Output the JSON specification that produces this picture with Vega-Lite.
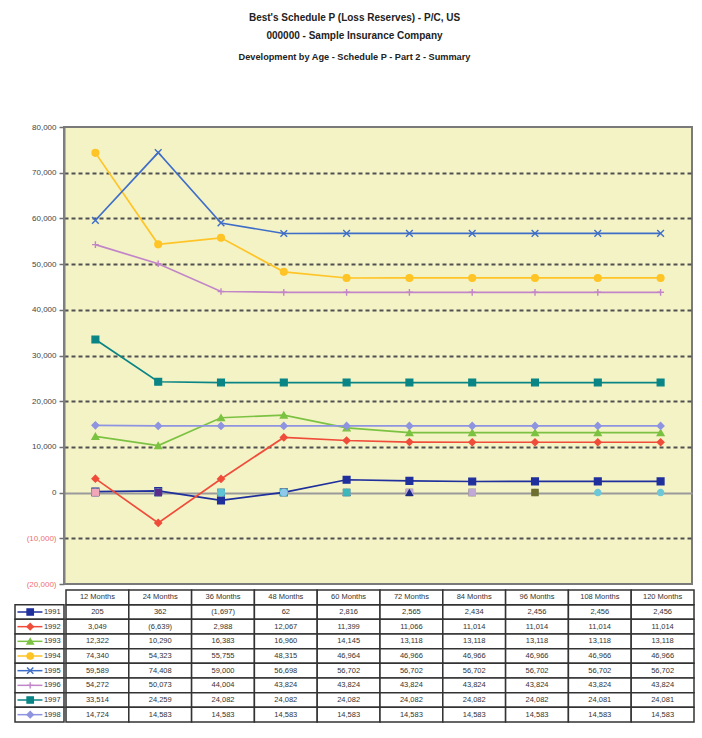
{
  "$schema": "https://vega.github.io/schema/vega-lite/v6.json",
  "background": "white",
  "padding": {"left": 14, "top": 12, "right": 5, "bottom": 0},
  "config": {
    "font": "Liberation Sans, Arial, sans-serif",
    "concat": {"spacing": 0},
    "view": {"stroke": null},
    "range": {
      "category": ["#1f2f9c", "#f04c3a", "#7cc242", "#ffc425", "#3f6ec8", "#c286c8", "#0a8585", "#8e94e0", "#6cc8d8", "#6e6e2e", "#c0a8d8", "#1c2a80", "#3cb8bc", "#90c8ec", "#60c4d4", "#5a2c8c", "#f0a8b8"],
      "symbol": ["square", "diamond", "triangle-up", "circle", "M-1,-1L1,1M-1,1L1,-1", "M-1,0L1,0M0,-1L0,1", "square", "diamond", "circle", "square", "square", "triangle-up", "square", "circle", "circle", "square", "square"]
    }
  },
  "title": {
    "text": ["Best's Schedule P (Loss Reserves) - P/C, US", "000000 - Sample Insurance Company"],
    "subtitle": "Development by Age - Schedule P - Part 2 - Summary",
    "font": "Liberation Sans, Arial, sans-serif",
    "fontSize": 10,
    "fontWeight": "bold",
    "lineHeight": 18,
    "color": "#222222",
    "subtitleFont": "Liberation Sans, Arial, sans-serif",
    "subtitleFontSize": 9.2,
    "subtitleFontWeight": "bold",
    "subtitleColor": "#222222",
    "subtitlePadding": 12,
    "offset": 60,
    "anchor": "middle"
  },
  "datasets": {
    "reserves": [
      {"series": "1991", "age": "12 Months", "value": 205},
      {"series": "1991", "age": "24 Months", "value": 362},
      {"series": "1991", "age": "36 Months", "value": -1697},
      {"series": "1991", "age": "48 Months", "value": 62},
      {"series": "1991", "age": "60 Months", "value": 2816},
      {"series": "1991", "age": "72 Months", "value": 2565},
      {"series": "1991", "age": "84 Months", "value": 2434},
      {"series": "1991", "age": "96 Months", "value": 2456},
      {"series": "1991", "age": "108 Months", "value": 2456},
      {"series": "1991", "age": "120 Months", "value": 2456},
      {"series": "1992", "age": "12 Months", "value": 3049},
      {"series": "1992", "age": "24 Months", "value": -6639},
      {"series": "1992", "age": "36 Months", "value": 2988},
      {"series": "1992", "age": "48 Months", "value": 12067},
      {"series": "1992", "age": "60 Months", "value": 11399},
      {"series": "1992", "age": "72 Months", "value": 11066},
      {"series": "1992", "age": "84 Months", "value": 11014},
      {"series": "1992", "age": "96 Months", "value": 11014},
      {"series": "1992", "age": "108 Months", "value": 11014},
      {"series": "1992", "age": "120 Months", "value": 11014},
      {"series": "1993", "age": "12 Months", "value": 12322},
      {"series": "1993", "age": "24 Months", "value": 10290},
      {"series": "1993", "age": "36 Months", "value": 16383},
      {"series": "1993", "age": "48 Months", "value": 16960},
      {"series": "1993", "age": "60 Months", "value": 14145},
      {"series": "1993", "age": "72 Months", "value": 13118},
      {"series": "1993", "age": "84 Months", "value": 13118},
      {"series": "1993", "age": "96 Months", "value": 13118},
      {"series": "1993", "age": "108 Months", "value": 13118},
      {"series": "1993", "age": "120 Months", "value": 13118},
      {"series": "1994", "age": "12 Months", "value": 74340},
      {"series": "1994", "age": "24 Months", "value": 54323},
      {"series": "1994", "age": "36 Months", "value": 55755},
      {"series": "1994", "age": "48 Months", "value": 48315},
      {"series": "1994", "age": "60 Months", "value": 46964},
      {"series": "1994", "age": "72 Months", "value": 46966},
      {"series": "1994", "age": "84 Months", "value": 46966},
      {"series": "1994", "age": "96 Months", "value": 46966},
      {"series": "1994", "age": "108 Months", "value": 46966},
      {"series": "1994", "age": "120 Months", "value": 46966},
      {"series": "1995", "age": "12 Months", "value": 59589},
      {"series": "1995", "age": "24 Months", "value": 74408},
      {"series": "1995", "age": "36 Months", "value": 59000},
      {"series": "1995", "age": "48 Months", "value": 56698},
      {"series": "1995", "age": "60 Months", "value": 56702},
      {"series": "1995", "age": "72 Months", "value": 56702},
      {"series": "1995", "age": "84 Months", "value": 56702},
      {"series": "1995", "age": "96 Months", "value": 56702},
      {"series": "1995", "age": "108 Months", "value": 56702},
      {"series": "1995", "age": "120 Months", "value": 56702},
      {"series": "1996", "age": "12 Months", "value": 54272},
      {"series": "1996", "age": "24 Months", "value": 50073},
      {"series": "1996", "age": "36 Months", "value": 44004},
      {"series": "1996", "age": "48 Months", "value": 43824},
      {"series": "1996", "age": "60 Months", "value": 43824},
      {"series": "1996", "age": "72 Months", "value": 43824},
      {"series": "1996", "age": "84 Months", "value": 43824},
      {"series": "1996", "age": "96 Months", "value": 43824},
      {"series": "1996", "age": "108 Months", "value": 43824},
      {"series": "1996", "age": "120 Months", "value": 43824},
      {"series": "1997", "age": "12 Months", "value": 33514},
      {"series": "1997", "age": "24 Months", "value": 24259},
      {"series": "1997", "age": "36 Months", "value": 24082},
      {"series": "1997", "age": "48 Months", "value": 24082},
      {"series": "1997", "age": "60 Months", "value": 24082},
      {"series": "1997", "age": "72 Months", "value": 24082},
      {"series": "1997", "age": "84 Months", "value": 24082},
      {"series": "1997", "age": "96 Months", "value": 24082},
      {"series": "1997", "age": "108 Months", "value": 24081},
      {"series": "1997", "age": "120 Months", "value": 24081},
      {"series": "1998", "age": "12 Months", "value": 14724},
      {"series": "1998", "age": "24 Months", "value": 14583},
      {"series": "1998", "age": "36 Months", "value": 14583},
      {"series": "1998", "age": "48 Months", "value": 14583},
      {"series": "1998", "age": "60 Months", "value": 14583},
      {"series": "1998", "age": "72 Months", "value": 14583},
      {"series": "1998", "age": "84 Months", "value": 14583},
      {"series": "1998", "age": "96 Months", "value": 14583},
      {"series": "1998", "age": "108 Months", "value": 14583},
      {"series": "1998", "age": "120 Months", "value": 14583}
    ],
    "zeros": [
      {"series": "1999", "age": "12 Months", "value": 0},
      {"series": "1999", "age": "24 Months", "value": 0},
      {"series": "1999", "age": "36 Months", "value": 0},
      {"series": "1999", "age": "48 Months", "value": 0},
      {"series": "1999", "age": "60 Months", "value": 0},
      {"series": "1999", "age": "72 Months", "value": 0},
      {"series": "1999", "age": "84 Months", "value": 0},
      {"series": "1999", "age": "96 Months", "value": 0},
      {"series": "1999", "age": "108 Months", "value": 0},
      {"series": "1999", "age": "120 Months", "value": 0},
      {"series": "2000", "age": "12 Months", "value": 0},
      {"series": "2000", "age": "24 Months", "value": 0},
      {"series": "2000", "age": "36 Months", "value": 0},
      {"series": "2000", "age": "48 Months", "value": 0},
      {"series": "2000", "age": "60 Months", "value": 0},
      {"series": "2000", "age": "72 Months", "value": 0},
      {"series": "2000", "age": "84 Months", "value": 0},
      {"series": "2000", "age": "96 Months", "value": 0},
      {"series": "2001", "age": "12 Months", "value": 0},
      {"series": "2001", "age": "24 Months", "value": 0},
      {"series": "2001", "age": "36 Months", "value": 0},
      {"series": "2001", "age": "48 Months", "value": 0},
      {"series": "2001", "age": "60 Months", "value": 0},
      {"series": "2001", "age": "72 Months", "value": 0},
      {"series": "2001", "age": "84 Months", "value": 0},
      {"series": "2002", "age": "12 Months", "value": 0},
      {"series": "2002", "age": "24 Months", "value": 0},
      {"series": "2002", "age": "36 Months", "value": 0},
      {"series": "2002", "age": "48 Months", "value": 0},
      {"series": "2002", "age": "60 Months", "value": 0},
      {"series": "2002", "age": "72 Months", "value": 0},
      {"series": "2003", "age": "12 Months", "value": 0},
      {"series": "2003", "age": "24 Months", "value": 0},
      {"series": "2003", "age": "36 Months", "value": 0},
      {"series": "2003", "age": "48 Months", "value": 0},
      {"series": "2003", "age": "60 Months", "value": 0},
      {"series": "2004", "age": "12 Months", "value": 0},
      {"series": "2004", "age": "24 Months", "value": 0},
      {"series": "2004", "age": "36 Months", "value": 0},
      {"series": "2004", "age": "48 Months", "value": 0},
      {"series": "2005", "age": "12 Months", "value": 0},
      {"series": "2005", "age": "24 Months", "value": 0},
      {"series": "2005", "age": "36 Months", "value": 0},
      {"series": "2006", "age": "12 Months", "value": 0},
      {"series": "2006", "age": "24 Months", "value": 0},
      {"series": "2007", "age": "12 Months", "value": 0}
    ]
  },
  "vconcat": [
    {
      "bounds": "flush",
      "spacing": 0,
      "hconcat": [
        {
          "width": 49,
          "height": 457,
          "data": {"values": [{}]},
          "mark": {"type": "text", "text": ""},
          "encoding": {}
        },
        {
          "width": 628,
          "height": 457,
          "view": {"fill": "#f4f3c6", "stroke": "#7a7a7a", "strokeWidth": 2},
          "encoding": {
            "x": {"field": "age", "type": "nominal", "scale": {"domain": ["12 Months", "24 Months", "36 Months", "48 Months", "60 Months", "72 Months", "84 Months", "96 Months", "108 Months", "120 Months"]}, "axis": null},
            "y": {
              "field": "value", "type": "quantitative",
              "scale": {"domain": [-20000, 80000], "nice": false, "zero": false},
              "axis": {
                "title": null,
                "values": [-20000, -10000, 0, 10000, 20000, 30000, 40000, 50000, 60000, 70000, 80000],
                "format": "(,.0f",
                "labelFontSize": 8,
                "labelColor": {"condition": {"test": "datum.value < 0", "value": "#f07070"}, "value": "#444444"},
                "labelPadding": 3,
                "tickSize": 5,
                "tickColor": "#707070",
                "tickWidth": 1.5,
                "domainColor": "#808080",
                "domainWidth": 2,
                "grid": true,
                "gridColor": {"condition": {"test": "datum.value === 0", "value": "#9a9a9a"}, "value": "#505050"},
                "gridWidth": 1.8,
                "gridDash": {"condition": {"test": "datum.value === 0", "value": []}, "value": [4, 3]},
                "gridOpacity": {"condition": {"test": "datum.value === 80000 || datum.value === -20000", "value": 0}, "value": 1}
              }
            }
          },
          "layer": [
            {
              "data": {"name": "reserves"},
              "mark": {"type": "line", "strokeWidth": 1.7},
              "encoding": {
                "color": {"field": "series", "type": "nominal", "scale": {"domain": ["1991", "1992", "1993", "1994", "1995", "1996", "1997", "1998", "1999", "2000", "2001", "2002", "2003", "2004", "2005", "2006", "2007"]}, "legend": null}
              }
            },
            {
              "data": {"name": "reserves"},
              "mark": {"type": "point", "filled": true, "size": 45, "strokeWidth": 1.4, "opacity": 1},
              "encoding": {
                "fill": {"field": "series", "type": "nominal", "scale": {"domain": ["1991", "1992", "1993", "1994", "1995", "1996", "1997", "1998", "1999", "2000", "2001", "2002", "2003", "2004", "2005", "2006", "2007"]}, "legend": null},
                "stroke": {"field": "series", "type": "nominal", "scale": {"domain": ["1991", "1992", "1993", "1994", "1995", "1996", "1997", "1998", "1999", "2000", "2001", "2002", "2003", "2004", "2005", "2006", "2007"]}, "legend": null},
                "shape": {"field": "series", "type": "nominal", "scale": {"domain": ["1991", "1992", "1993", "1994", "1995", "1996", "1997", "1998", "1999", "2000", "2001", "2002", "2003", "2004", "2005", "2006", "2007"]}, "legend": null}
              }
            },
            {
              "data": {"name": "zeros"},
              "mark": {"type": "point", "filled": true, "size": 40, "strokeWidth": 1.2, "opacity": 1},
              "encoding": {
                "fill": {"field": "series", "type": "nominal", "legend": null},
                "stroke": {"field": "series", "type": "nominal", "legend": null},
                "shape": {"field": "series", "type": "nominal", "legend": null}
              }
            }
          ]
        }
      ]
    },
    {
      "spacing": 0,
      "hconcat": [
        {
          "width": 49,
          "height": 132,
          "data": {"name": "reserves"},
          "transform": [{"filter": "datum.age === '12 Months'"}],
          "encoding": {
            "y": {"field": "series", "type": "nominal", "scale": {"domain": ["hdr", "1991", "1992", "1993", "1994", "1995", "1996", "1997", "1998"], "paddingInner": 0, "paddingOuter": 0}, "axis": null}
          },
          "layer": [
            {
              "mark": {"type": "rect", "fill": "white", "stroke": "#333333", "strokeWidth": 1.5},
              "encoding": {
                "x": {"datum": 0, "type": "quantitative", "scale": {"domain": [0, 1], "nice": false, "zero": false}, "axis": null},
                "x2": {"datum": 1}
              }
            },
            {
              "mark": {"type": "rule", "strokeWidth": 1.5},
              "encoding": {
                "x": {"datum": 0.05, "type": "quantitative"},
                "x2": {"datum": 0.56},
                "color": {"field": "series", "type": "nominal", "scale": {"domain": ["1991", "1992", "1993", "1994", "1995", "1996", "1997", "1998", "1999", "2000", "2001", "2002", "2003", "2004", "2005", "2006", "2007"]}, "legend": null}
              }
            },
            {
              "mark": {"type": "point", "filled": true, "size": 40, "strokeWidth": 1.4, "opacity": 1},
              "encoding": {
                "x": {"datum": 0.31, "type": "quantitative"},
                "fill": {"field": "series", "type": "nominal", "scale": {"domain": ["1991", "1992", "1993", "1994", "1995", "1996", "1997", "1998", "1999", "2000", "2001", "2002", "2003", "2004", "2005", "2006", "2007"]}, "legend": null},
                "stroke": {"field": "series", "type": "nominal", "scale": {"domain": ["1991", "1992", "1993", "1994", "1995", "1996", "1997", "1998", "1999", "2000", "2001", "2002", "2003", "2004", "2005", "2006", "2007"]}, "legend": null},
                "shape": {"field": "series", "type": "nominal", "scale": {"domain": ["1991", "1992", "1993", "1994", "1995", "1996", "1997", "1998", "1999", "2000", "2001", "2002", "2003", "2004", "2005", "2006", "2007"]}, "legend": null}
              }
            },
            {
              "mark": {"type": "text", "align": "right", "fontSize": 7.5, "color": "#333333"},
              "encoding": {
                "x": {"datum": 0.93, "type": "quantitative"},
                "text": {"field": "series", "type": "nominal"}
              }
            }
          ]
        },
        {
          "width": 628,
          "height": 132,
          "data": {"name": "reserves"},
          "encoding": {
            "x": {"field": "age", "type": "nominal", "scale": {"domain": ["12 Months", "24 Months", "36 Months", "48 Months", "60 Months", "72 Months", "84 Months", "96 Months", "108 Months", "120 Months"], "paddingInner": 0, "paddingOuter": 0}, "axis": null},
            "y": {"field": "series", "type": "nominal", "scale": {"domain": ["hdr", "1991", "1992", "1993", "1994", "1995", "1996", "1997", "1998"], "paddingInner": 0, "paddingOuter": 0}, "axis": null}
          },
          "layer": [
            {
              "mark": {"type": "rect", "fill": "white", "stroke": "#333333", "strokeWidth": 1.5}
            },
            {
              "transform": [{"filter": "datum.series === '1991'"}],
              "mark": {"type": "rect", "fill": "white", "stroke": "#333333", "strokeWidth": 1.5},
              "encoding": {"y": {"datum": "hdr", "type": "nominal"}}
            },
            {
              "mark": {"type": "text", "fontSize": 7.5, "color": "#333333"},
              "encoding": {"text": {"field": "value", "type": "quantitative", "format": "(,.0f"}}
            },
            {
              "transform": [{"filter": "datum.series === '1991'"}],
              "mark": {"type": "text", "fontSize": 7.5, "color": "#333333"},
              "encoding": {"y": {"datum": "hdr", "type": "nominal"}, "text": {"field": "age", "type": "nominal"}}
            }
          ]
        }
      ]
    }
  ]
}
